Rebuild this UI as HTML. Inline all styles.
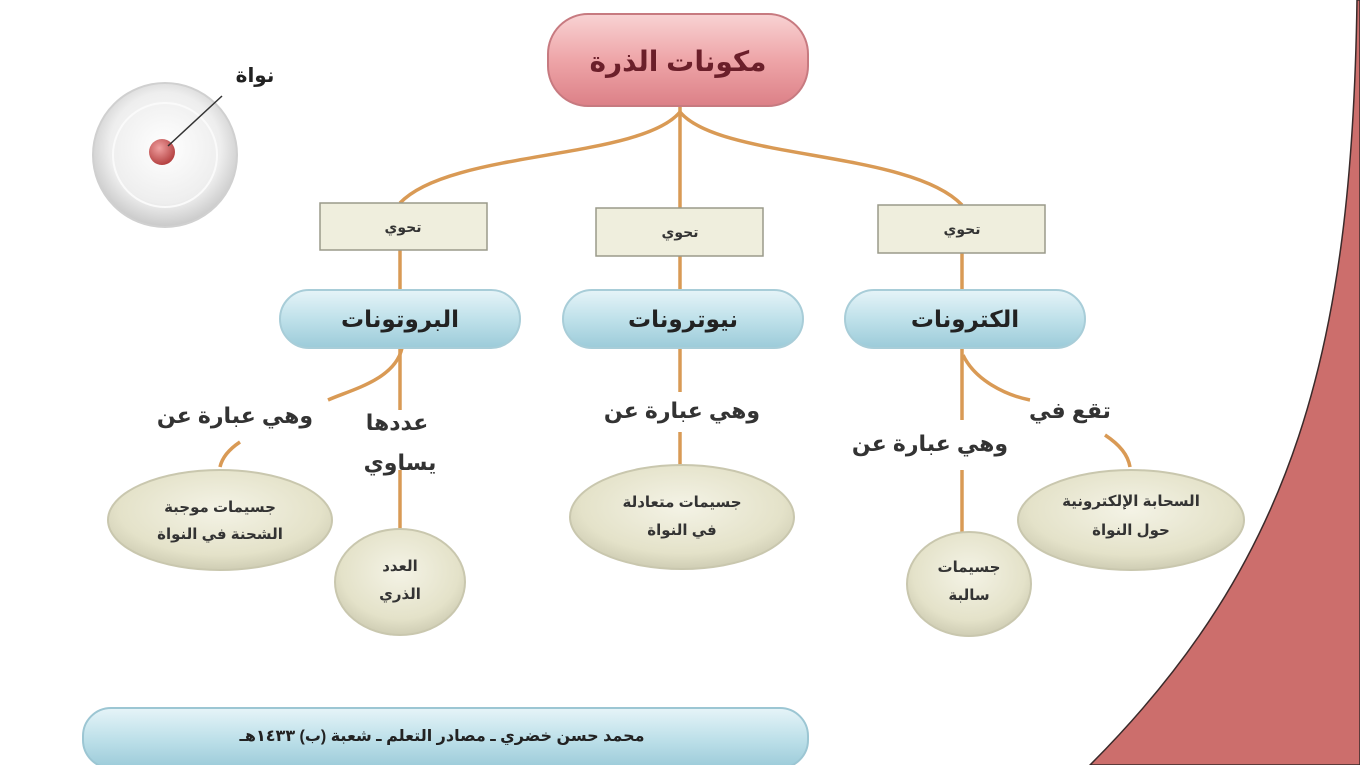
<!DOCTYPE html>
<html><head><meta charset="utf-8"><style>
html,body{margin:0;padding:0;background:#fff;}
svg{display:block;}
text{font-family:"Liberation Sans","DejaVu Sans",sans-serif;font-weight:bold;}
</style></head><body>
<svg width="1360" height="765" viewBox="0 0 1360 765" xmlns="http://www.w3.org/2000/svg">
<defs>
<linearGradient id="pink" x1="0" y1="0" x2="0" y2="1">
<stop offset="0" stop-color="#f8d3d3"/><stop offset="0.5" stop-color="#eea5a8"/><stop offset="1" stop-color="#dc8087"/></linearGradient>
<linearGradient id="blue" x1="0" y1="0" x2="0" y2="1">
<stop offset="0" stop-color="#e6f4f8"/><stop offset="0.5" stop-color="#bfe1ea"/><stop offset="1" stop-color="#9ccbd9"/></linearGradient>
<radialGradient id="beige" cx="0.5" cy="0.4" r="0.6">
<stop offset="0" stop-color="#f4f3e6"/><stop offset="0.75" stop-color="#e4e2c9"/><stop offset="1" stop-color="#cfcdb4"/></radialGradient>
<radialGradient id="atom" cx="0.5" cy="0.45" r="0.55">
<stop offset="0" stop-color="#ffffff"/><stop offset="0.7" stop-color="#eeeeee"/><stop offset="1" stop-color="#c9c9c9"/></radialGradient>
<radialGradient id="nuc" cx="0.4" cy="0.35" r="0.7">
<stop offset="0" stop-color="#f0a0a0"/><stop offset="1" stop-color="#b03a3a"/></radialGradient>
</defs>

<path d="M1357,0 C1352,350 1295,560 1090,765 L1360,765 L1360,0 Z" fill="#cc6e6c" stroke="#3a2a2a" stroke-width="1.5"/>

<!-- atom -->
<circle cx="165" cy="155" r="72" fill="url(#atom)" stroke="#d0d0d0" stroke-width="2"/>
<circle cx="165" cy="155" r="52" fill="none" stroke="#fafafa" stroke-width="2"/>
<circle cx="162" cy="152" r="13" fill="url(#nuc)"/>
<line x1="168" y1="146" x2="222" y2="96" stroke="#333" stroke-width="1.5"/>
<text x="255" y="82" font-size="20" fill="#222" text-anchor="middle">نواة</text>

<!-- connectors -->
<g stroke="#d99a55" stroke-width="3.5" fill="none">
<path d="M680,106 L680,208"/>
<path d="M680,112 C640,160 450,150 400,203"/>
<path d="M680,112 C720,160 910,150 962,205"/>
<path d="M400,250 L400,290"/><path d="M680,256 L680,290"/><path d="M962,253 L962,290"/>
<path d="M402,348 C395,380 350,390 328,400"/>
<path d="M400,348 L400,410"/><path d="M400,470 L400,530"/>
<path d="M240,442 C228,450 222,458 220,467"/>
<path d="M680,348 L680,392"/><path d="M680,432 L680,465"/>
<path d="M962,348 L962,420"/><path d="M962,470 L962,532"/>
<path d="M963,355 C975,380 1005,395 1030,400"/>
<path d="M1105,435 C1120,445 1128,455 1130,467"/>
</g>

<!-- title -->
<rect x="548" y="14" width="260" height="92" rx="40" fill="url(#pink)" stroke="#c77a80" stroke-width="2"/>
<text x="678" y="71" font-size="28" fill="#6b1f2a" text-anchor="middle">مكونات الذرة</text>

<!-- boxes -->
<g fill="#efeedd" stroke="#9a9a8a" stroke-width="1.5">
<rect x="320" y="203" width="167" height="47"/>
<rect x="596" y="208" width="167" height="48"/>
<rect x="878" y="205" width="167" height="48"/>
</g>
<g font-size="14" fill="#333" text-anchor="middle" font-weight="normal">
<text x="403" y="232">تحوي</text><text x="680" y="237">تحوي</text><text x="962" y="234">تحوي</text>
</g>

<!-- blue pills -->
<g fill="url(#blue)" stroke="#a8cdd8" stroke-width="2">
<rect x="280" y="290" width="240" height="58" rx="29"/>
<rect x="563" y="290" width="240" height="58" rx="29"/>
<rect x="845" y="290" width="240" height="58" rx="29"/>
</g>
<g font-size="23" fill="#222" text-anchor="middle">
<text x="400" y="327">البروتونات</text>
<text x="683" y="327">نيوترونات</text>
<text x="965" y="327">الكترونات</text>
</g>

<!-- labels -->
<g font-size="22" fill="#333" text-anchor="middle">
<text x="235" y="423">وهي عبارة عن</text>
<text x="397" y="430">عددها</text>
<text x="400" y="470">يساوي</text>
<text x="682" y="418">وهي عبارة عن</text>
<text x="930" y="451">وهي عبارة عن</text>
<text x="1070" y="418">تقع في</text>
</g>

<!-- ellipses -->
<g fill="url(#beige)" stroke="#c9c7ae" stroke-width="2">
<ellipse cx="220" cy="520" rx="112" ry="50"/>
<ellipse cx="400" cy="582" rx="65" ry="53"/>
<ellipse cx="682" cy="517" rx="112" ry="52"/>
<ellipse cx="969" cy="584" rx="62" ry="52"/>
<ellipse cx="1131" cy="520" rx="113" ry="50"/>
</g>
<g font-size="15" fill="#333" text-anchor="middle">
<text x="220" y="512">جسيمات موجبة</text><text x="220" y="539">الشحنة في النواة</text>
<text x="400" y="571">العدد</text><text x="400" y="599">الذري</text>
<text x="682" y="507">جسيمات متعادلة</text><text x="682" y="535">في النواة</text>
<text x="969" y="572">جسيمات</text><text x="969" y="600">سالبة</text>
<text x="1131" y="506">السحابة الإلكترونية</text><text x="1131" y="535">حول النواة</text>
</g>

<!-- footer -->
<rect x="83" y="708" width="725" height="60" rx="28" fill="url(#blue)" stroke="#9cc6d3" stroke-width="2"/>
<text x="442" y="741" font-size="16" fill="#222" text-anchor="middle">محمد حسن خضري ـ مصادر التعلم ـ شعبة (ب) ١٤٣٣هـ</text>
</svg>
</body></html>
